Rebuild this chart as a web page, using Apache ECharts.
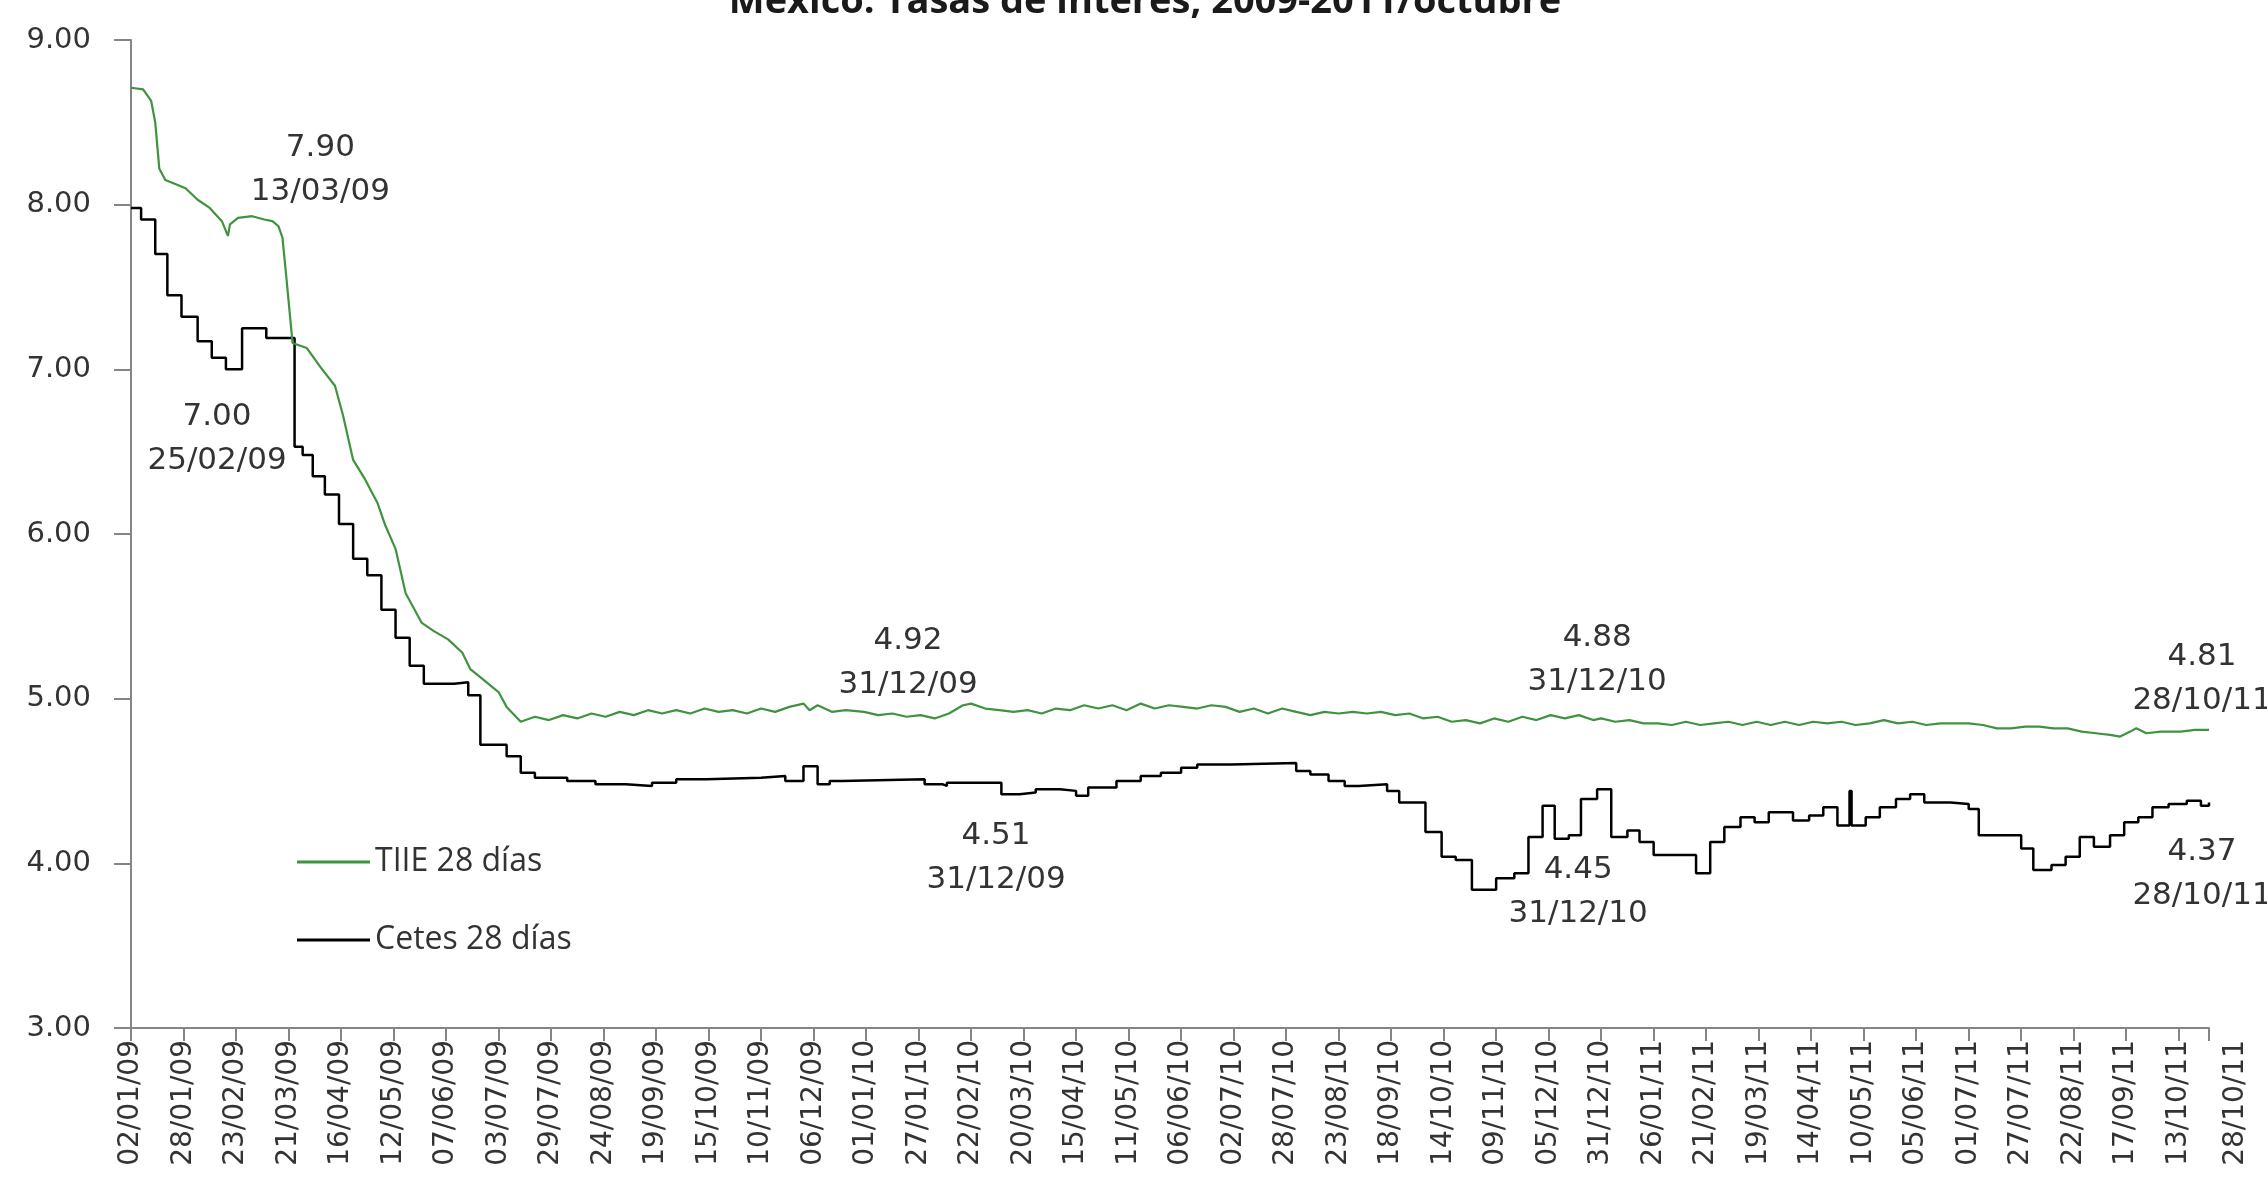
<!DOCTYPE html>
<html><head><meta charset="utf-8">
<script src="https://cdn.jsdelivr.net/npm/echarts@6/dist/echarts.min.js"></script>
<style>html,body{margin:0;padding:0;background:#fff}#c{width:2267px;height:1197px}</style>
</head><body><div id="c"></div>
<script>
const titleText = 'México: Tasas de interés, 2009-2011/octubre';
const startDate = '2009-01-02';
const endDate = '2011-10-28';
const tickEveryDays = 26;
const yMin = 3, yMax = 9, yStep = 1;

const tiieName = 'TIIE 28 días';
const cetesName = 'Cetes 28 días';

const tiieDates = ['2009-01-02','2009-01-08','2009-01-12','2009-01-14','2009-01-16','2009-01-19','2009-01-23','2009-01-29','2009-02-04','2009-02-10','2009-02-16','2009-02-19','2009-02-20','2009-02-24','2009-03-03','2009-03-09','2009-03-13','2009-03-16','2009-03-18','2009-03-20','2009-03-23','2009-03-30','2009-04-06','2009-04-13','2009-04-17','2009-04-22','2009-04-28','2009-05-04','2009-05-08','2009-05-13','2009-05-18','2009-05-26','2009-06-01','2009-06-08','2009-06-15','2009-06-19','2009-06-25','2009-07-03','2009-07-07','2009-07-14','2009-07-21','2009-07-28','2009-08-04','2009-08-11','2009-08-18','2009-08-25','2009-09-01','2009-09-08','2009-09-15','2009-09-22','2009-09-29','2009-10-06','2009-10-13','2009-10-20','2009-10-27','2009-11-03','2009-11-10','2009-11-17','2009-11-24','2009-12-01','2009-12-04','2009-12-08','2009-12-15','2009-12-22','2009-12-31','2010-01-07','2010-01-14','2010-01-21','2010-01-28','2010-02-04','2010-02-11','2010-02-18','2010-02-22','2010-03-01','2010-03-08','2010-03-15','2010-03-22','2010-03-29','2010-04-05','2010-04-12','2010-04-19','2010-04-26','2010-05-03','2010-05-10','2010-05-17','2010-05-24','2010-05-31','2010-06-07','2010-06-14','2010-06-21','2010-06-28','2010-07-05','2010-07-12','2010-07-19','2010-07-26','2010-08-02','2010-08-09','2010-08-16','2010-08-23','2010-08-30','2010-09-06','2010-09-13','2010-09-20','2010-09-27','2010-10-04','2010-10-11','2010-10-18','2010-10-25','2010-11-01','2010-11-08','2010-11-15','2010-11-22','2010-11-29','2010-12-06','2010-12-13','2010-12-20','2010-12-27','2010-12-31','2011-01-07','2011-01-14','2011-01-21','2011-01-28','2011-02-04','2011-02-11','2011-02-18','2011-02-25','2011-03-04','2011-03-11','2011-03-18','2011-03-25','2011-04-01','2011-04-08','2011-04-15','2011-04-22','2011-04-29','2011-05-06','2011-05-13','2011-05-20','2011-05-27','2011-06-03','2011-06-10','2011-06-17','2011-06-24','2011-07-01','2011-07-08','2011-07-15','2011-07-22','2011-07-29','2011-08-05','2011-08-12','2011-08-19','2011-08-26','2011-09-02','2011-09-09','2011-09-14','2011-09-19','2011-09-22','2011-09-27','2011-10-04','2011-10-14','2011-10-21','2011-10-28'];
const tiieValues = [8.71,8.70,8.63,8.50,8.22,8.15,8.13,8.10,8.03,7.98,7.90,7.81,7.88,7.92,7.93,7.91,7.90,7.87,7.80,7.55,7.16,7.13,7.01,6.90,6.72,6.45,6.33,6.19,6.05,5.91,5.64,5.46,5.41,5.36,5.28,5.18,5.12,5.04,4.95,4.86,4.89,4.87,4.90,4.88,4.91,4.89,4.92,4.90,4.93,4.91,4.93,4.91,4.94,4.92,4.93,4.91,4.94,4.92,4.95,4.97,4.93,4.96,4.92,4.93,4.92,4.90,4.91,4.89,4.90,4.88,4.91,4.96,4.97,4.94,4.93,4.92,4.93,4.91,4.94,4.93,4.96,4.94,4.96,4.93,4.97,4.94,4.96,4.95,4.94,4.96,4.95,4.92,4.94,4.91,4.94,4.92,4.90,4.92,4.91,4.92,4.91,4.92,4.90,4.91,4.88,4.89,4.86,4.87,4.85,4.88,4.86,4.89,4.87,4.90,4.88,4.90,4.87,4.88,4.86,4.87,4.85,4.85,4.84,4.86,4.84,4.85,4.86,4.84,4.86,4.84,4.86,4.84,4.86,4.85,4.86,4.84,4.85,4.87,4.85,4.86,4.84,4.85,4.85,4.85,4.84,4.82,4.82,4.83,4.83,4.82,4.82,4.80,4.79,4.78,4.77,4.80,4.82,4.79,4.80,4.80,4.81,4.81];

const cetesDates = ['2009-01-02','2009-01-07','2009-01-14','2009-01-20','2009-01-27','2009-02-04','2009-02-11','2009-02-18','2009-02-25','2009-02-26','2009-03-10','2009-03-24','2009-03-28','2009-04-02','2009-04-08','2009-04-15','2009-04-22','2009-04-29','2009-05-06','2009-05-13','2009-05-20','2009-05-27','2009-06-11','2009-06-18','2009-06-24','2009-07-07','2009-07-14','2009-07-21','2009-08-06','2009-08-20','2009-09-04','2009-09-17','2009-09-29','2009-10-14','2009-11-10','2009-11-22','2009-12-01','2009-12-08','2009-12-14','2009-12-20','2010-01-30','2010-02-08','2010-02-10','2010-03-09','2010-03-18','2010-03-26','2010-04-07','2010-04-15','2010-04-21','2010-05-05','2010-05-17','2010-05-27','2010-06-06','2010-06-14','2010-07-01','2010-08-02','2010-08-09','2010-08-18','2010-08-26','2010-09-02','2010-09-16','2010-09-22','2010-10-05','2010-10-13','2010-10-20','2010-10-28','2010-11-09','2010-11-18','2010-11-25','2010-12-02','2010-12-08','2010-12-15','2010-12-21','2010-12-29','2011-01-05','2011-01-13','2011-01-19','2011-01-26','2011-02-16','2011-02-23','2011-03-02','2011-03-10','2011-03-17','2011-03-24','2011-04-05','2011-04-13','2011-04-20','2011-04-27','2011-05-03','2011-05-04','2011-05-11','2011-05-18','2011-05-26','2011-06-02','2011-06-09','2011-06-22','2011-07-01','2011-07-06','2011-07-27','2011-08-02','2011-08-11','2011-08-18','2011-08-25','2011-09-01','2011-09-09','2011-09-16','2011-09-23','2011-09-30','2011-10-08','2011-10-17','2011-10-24','2011-10-28'];
const cetesValues = [7.98,7.91,7.70,7.45,7.32,7.17,7.07,7.00,7.00,7.25,7.19,6.53,6.48,6.35,6.24,6.06,5.85,5.75,5.54,5.37,5.20,5.09,5.10,5.02,4.72,4.65,4.55,4.52,4.50,4.48,4.47,4.49,4.51,4.52,4.53,4.50,4.59,4.48,4.50,4.51,4.48,4.47,4.49,4.42,4.43,4.45,4.44,4.41,4.46,4.50,4.53,4.55,4.58,4.60,4.61,4.56,4.54,4.50,4.47,4.48,4.44,4.37,4.19,4.04,4.02,3.84,3.91,3.94,4.16,4.35,4.15,4.17,4.39,4.45,4.16,4.20,4.13,4.05,3.94,4.13,4.22,4.28,4.25,4.31,4.26,4.29,4.34,4.23,4.44,4.23,4.28,4.34,4.39,4.42,4.37,4.36,4.33,4.17,4.09,3.96,3.99,4.04,4.16,4.10,4.17,4.25,4.28,4.34,4.36,4.38,4.35,4.37];

const annotSeries = [tiieName, cetesName, tiieName, cetesName, tiieName, cetesName, tiieName, cetesName];
const annotDates = ['2009-03-13','2009-02-25','2009-12-31','2009-12-31','2010-12-31','2010-12-31','2011-10-28','2011-10-28'];
const annotValues = [7.90, 7.00, 4.92, 4.51, 4.88, 4.45, 4.81, 4.37];
// label layout (pixel offsets from the annotated point)
const annotOffsets = [[48,-51],[-23,70],[44,-49],[132,79],[-4,-58],[-23,103],[-7,-51],[-7,72]];

const DAY = 86400000;
function toUTC(s){ const p = s.split('-').map(Number); return Date.UTC(p[0], p[1]-1, p[2]); }
const t0 = toUTC(startDate);
function dayOf(s){ return Math.round((toUTC(s) - t0) / DAY); }
function fmtDay(d){
  const dt = new Date(t0 + Math.round(d) * DAY);
  const dd = String(dt.getUTCDate()).padStart(2,'0');
  const mm = String(dt.getUTCMonth()+1).padStart(2,'0');
  const yy = String(dt.getUTCFullYear()).slice(2);
  return dd + '/' + mm + '/' + yy;
}
const maxDay = dayOf(endDate);

function marks(name){
  const out = [];
  annotSeries.forEach((s, i) => {
    if (s !== name) return;
    out.push({
      coord: [dayOf(annotDates[i]), annotValues[i]],
      label: { offset: annotOffsets[i], formatter: annotValues[i].toFixed(2) + '\n' + fmtDay(dayOf(annotDates[i])) }
    });
  });
  return out;
}
const markLabel = { show: true, position: 'inside', fontFamily: 'DejaVu Sans', fontSize: 31, lineHeight: 44, color: '#333', align: 'center' };

const chart = echarts.init(document.getElementById('c'));
const axisColor = '#858585';
chart.setOption({
  animation: false,
  backgroundColor: '#fff',
  title: { text: titleText, left: 1140, textAlign: 'center', top: -22, textStyle: { fontFamily: 'Open Sans', fontWeight: 'bold', fontSize: 38, color: '#1a1a1a' } },
  grid: { left: 131, right: 58, top: 40, bottom: 169, containLabel: false },
  legend: {
    orient: 'vertical', left: 292, top: 841, itemWidth: 73, itemHeight: 3, itemGap: 46, icon: 'rect',
    textStyle: { fontFamily: 'Open Sans', fontSize: 32, lineHeight: 32, color: '#333' },
    data: [tiieName, cetesName]
  },
  xAxis: {
    type: 'value', min: 0, max: maxDay, interval: tickEveryDays,
    axisLine: { show: true, lineStyle: { color: axisColor, width: 2 } },
    axisTick: { show: true, length: 13, lineStyle: { color: axisColor, width: 2 } },
    splitLine: { show: false },
    axisLabel: {
      rotate: 90, margin: 12, fontFamily: 'DejaVu Sans', fontSize: 28, color: '#333', showMaxLabel: true, showMinLabel: true,
      formatter: v => (Math.round(v) === maxDay ? '{last|' + fmtDay(v) + '}' : fmtDay(v)),
      rich: { last: { fontFamily: 'DejaVu Sans', fontSize: 28, color: '#333', padding: [54, 0, 0, 0] } }
    }
  },
  yAxis: {
    type: 'value', min: yMin, max: yMax, interval: yStep,
    axisLine: { show: true, lineStyle: { color: axisColor, width: 2 } },
    axisTick: { show: true, length: 17, lineStyle: { color: axisColor, width: 2 } },
    splitLine: { show: false },
    axisLabel: { margin: 40, fontFamily: 'DejaVu Sans', fontSize: 29, color: '#333', formatter: v => v.toFixed(2) }
  },
  series: [
    {
      name: tiieName, type: 'line', showSymbol: false, z: 3,
      data: tiieDates.map((d, i) => [dayOf(d), tiieValues[i]]),
      lineStyle: { color: '#3f933f', width: 2.2 }, itemStyle: { color: '#3f933f' },
      markPoint: { silent: true, symbol: 'circle', symbolSize: 1, itemStyle: { color: 'rgba(0,0,0,0)' }, label: markLabel, data: marks(tiieName) }
    },
    {
      name: cetesName, type: 'line', step: 'end', showSymbol: false, z: 2,
      data: cetesDates.map((d, i) => [dayOf(d), cetesValues[i]]),
      lineStyle: { color: '#000', width: 2.5 }, itemStyle: { color: '#000' },
      markPoint: { silent: true, symbol: 'circle', symbolSize: 1, itemStyle: { color: 'rgba(0,0,0,0)' }, label: markLabel, data: marks(cetesName) }
    }
  ]
});
</script>
</body></html>
